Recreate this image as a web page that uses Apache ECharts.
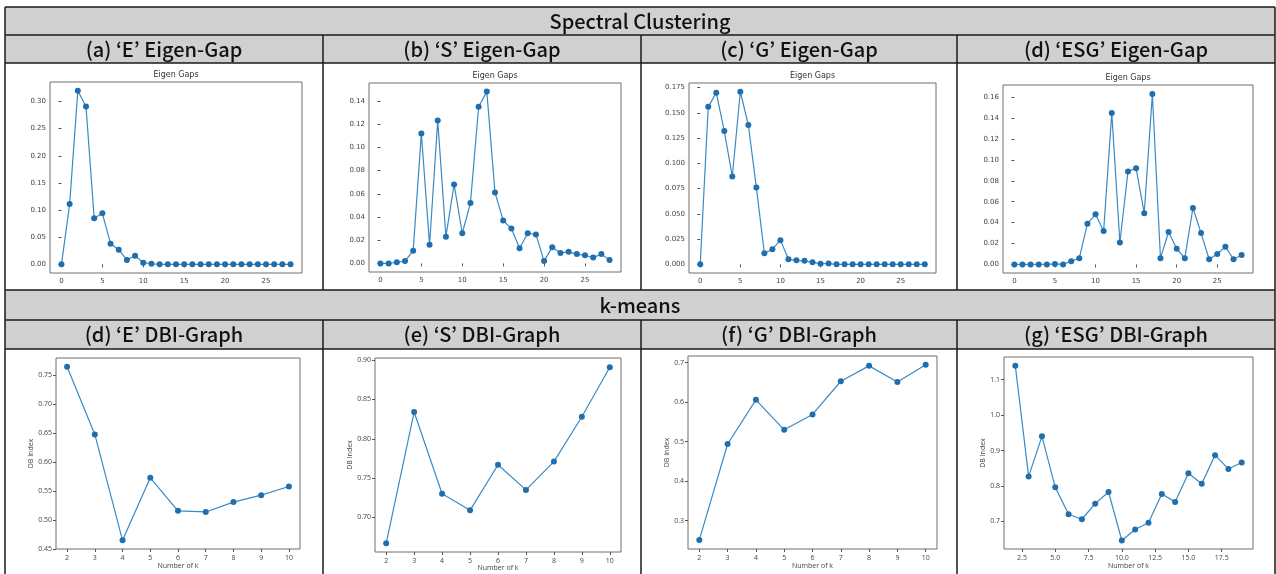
<!DOCTYPE html>
<html>
<head>
<meta charset="utf-8">
<script src="https://cdn.jsdelivr.net/npm/echarts@6/dist/echarts.min.js"></script>
<style>
  html, body { margin: 0; padding: 0; background: #fff; }
  #main { width: 1276px; height: 574px; }
</style>
</head>
<body>
<div id="main"></div>
<script>
// eigen-gap index 0..28
const eigenIdx = Array.from({ length: 29 }, (_, i) => i)
const gapE = [0.000, 0.111, 0.320, 0.291, 0.085, 0.094, 0.038, 0.027, 0.008, 0.016, 0.003, 0.001,
  0.000, 0.000, 0.000, 0.000, 0.000, 0.000, 0.000, 0.000, 0.000, 0.000, 0.000, 0.000, 0.000, 0.000, 0.000, 0.000, 0.000]
const gapS = [0.000, 0.000, 0.001, 0.002, 0.011, 0.112, 0.016, 0.123, 0.023, 0.068, 0.026, 0.052,
  0.135, 0.148, 0.061, 0.037, 0.030, 0.013, 0.026, 0.025, 0.002, 0.014, 0.009, 0.010, 0.008, 0.007, 0.005, 0.008, 0.003]
const gapG = [0.000, 0.156, 0.170, 0.132, 0.087, 0.171, 0.138, 0.076, 0.011, 0.015, 0.024, 0.005,
  0.004, 0.0035, 0.002, 0.0007, 0.0008, 0.000, 0.000, 0.000, 0.000, 0.000, 0.000, 0.000, 0.000, 0.000, 0.000, 0.000, 0.000]
const gapESG = [0.000, 0.000, 0.000, 0.000, 0.000, 0.0005, 0.000, 0.003, 0.006, 0.039, 0.048, 0.032,
  0.145, 0.021, 0.089, 0.092, 0.049, 0.163, 0.006, 0.031, 0.015, 0.006, 0.054, 0.030, 0.005, 0.010, 0.017, 0.005, 0.009]

// k-means DBI
const kSmall = [2, 3, 4, 5, 6, 7, 8, 9, 10]
const kEsg = [2, 3, 4, 5, 6, 7, 8, 9, 10, 11, 12, 13, 14, 15, 16, 17, 18, 19]
const dbiE = [0.765, 0.648, 0.465, 0.573, 0.516, 0.514, 0.531, 0.543, 0.558]
const dbiS = [0.667, 0.834, 0.730, 0.709, 0.767, 0.735, 0.771, 0.828, 0.891]
const dbiG = [0.251, 0.494, 0.606, 0.530, 0.569, 0.653, 0.692, 0.651, 0.695]
const dbiESG = [1.139, 0.827, 0.940, 0.796, 0.720, 0.706, 0.750, 0.783, 0.646,
  0.677, 0.696, 0.777, 0.755, 0.836, 0.806, 0.887, 0.848, 0.866]

// tick labels
const ticksEigenX = [0, 5, 10, 15, 20, 25]
const ticksGapE = [0, 0.05, 0.10, 0.15, 0.20, 0.25, 0.30]
const ticksGapS = [0, 0.02, 0.04, 0.06, 0.08, 0.10, 0.12, 0.14]
const ticksGapG = [0, 0.025, 0.05, 0.075, 0.10, 0.125, 0.15, 0.175]
const ticksGapESG = [0, 0.02, 0.04, 0.06, 0.08, 0.10, 0.12, 0.14, 0.16]
const ticksK = [2, 3, 4, 5, 6, 7, 8, 9, 10]
const ticksKEsg = [2.5, 5.0, 7.5, 10.0, 12.5, 15.0, 17.5]
const ticksDbiE = [0.45, 0.50, 0.55, 0.60, 0.65, 0.70, 0.75]
const ticksDbiS = [0.70, 0.75, 0.80, 0.85, 0.90]
const ticksDbiG = [0.3, 0.4, 0.5, 0.6, 0.7]
const ticksDbiESG = [0.7, 0.8, 0.9, 1.0, 1.1]

const colTitles = ['(a) ‘E’ Eigen-Gap', '(b) ‘S’ Eigen-Gap', '(c) ‘G’ Eigen-Gap', '(d) ‘ESG’ Eigen-Gap']
const colTitles2 = ['(d) ‘E’ DBI-Graph', '(e) ‘S’ DBI-Graph', '(f) ‘G’ DBI-Graph', '(g) ‘ESG’ DBI-Graph']

const panels = [
  { grid: [50, 82, 252, 191], xs: eigenIdx, ys: gapE, x: [-1.4, 29.4, ticksEigenX, 0], y: [-0.016, 0.336, ticksGapE, 2] },
  { grid: [369, 83, 252, 189], xs: eigenIdx, ys: gapS, x: [-1.4, 29.4, ticksEigenX, 0], y: [-0.0074, 0.1554, ticksGapS, 2] },
  { grid: [689, 83, 247, 190], xs: eigenIdx, ys: gapG, x: [-1.4, 29.4, ticksEigenX, 0], y: [-0.00855, 0.1796, ticksGapG, 3] },
  { grid: [1003, 85, 250, 188], xs: eigenIdx, ys: gapESG, x: [-1.4, 29.4, ticksEigenX, 0], y: [-0.0082, 0.1717, ticksGapESG, 2] },
  { grid: [56, 358, 244, 191], xs: kSmall, ys: dbiE, x: [1.6, 10.4, ticksK, 0], y: [0.45, 0.78, ticksDbiE, 2], names: [13, 20] },
  { grid: [375, 358, 246, 194], xs: kSmall, ys: dbiS, x: [1.6, 10.4, ticksK, 0], y: [0.656, 0.9027, ticksDbiS, 2], names: [11, 21] },
  { grid: [688, 356, 249, 193], xs: kSmall, ys: dbiG, x: [1.6, 10.4, ticksK, 0], y: [0.228, 0.717, ticksDbiG, 1], names: [13, 17] },
  { grid: [1004, 357, 249, 192], xs: kEsg, ys: dbiESG, x: [1.15, 19.85, ticksKEsg, 1], y: [0.622, 1.164, ticksDbiESG, 1], names: [13, 17] }
]

const tickFont = 'DejaVu Sans'
const headFont = 'Noto Sans CJK KR'

const grids = []
const xAxes = []
const yAxes = []
const series = []
const graphics = []

panels.forEach((p, i) => {
  const font = p.names ? 'Open Sans' : tickFont
  grids.push({
    left: p.grid[0], top: p.grid[1], width: p.grid[2], height: p.grid[3],
    show: true, borderColor: '#6e6e6e', borderWidth: 1, backgroundColor: '#fff'
  })
  const axisCommon = (r, isX) => ({
    gridIndex: i,
    type: 'value',
    min: r[0],
    max: r[1],
    axisLine: { show: false },
    splitLine: { show: false },
    axisTick: { show: true, inside: false, length: 3, customValues: r[2], lineStyle: { color: '#555' } },
    axisLabel: {
      customValues: r[2],
      color: '#444',
      fontSize: 7,
      fontFamily: font,
      margin: isX ? 5 : 4,
      formatter: v => v.toFixed(r[3])
    }
  })
  const xa = axisCommon(p.x, true)
  const ya = axisCommon(p.y, false)
  if (p.names) {
    Object.assign(xa, { name: 'Number of k', nameLocation: 'middle', nameGap: p.names[0], nameTextStyle: { fontSize: 7, color: '#444', fontFamily: font } })
    Object.assign(ya, { name: 'DB Index', nameLocation: 'middle', nameGap: p.names[1], nameTextStyle: { fontSize: 7, color: '#444', fontFamily: font } })
  } else {
    graphics.push({
      type: 'text', x: p.grid[0] + p.grid[2] / 2, y: p.grid[1] - 7,
      style: { text: 'Eigen Gaps', fill: '#333', font: '8px "DejaVu Sans"', textAlign: 'center', textVerticalAlign: 'middle' }
    })
  }
  xAxes.push(xa)
  yAxes.push(ya)
  series.push({
    type: 'line',
    xAxisIndex: i,
    yAxisIndex: i,
    data: p.xs.map((x, j) => [x, p.ys[j]]),
    symbol: 'circle',
    symbolSize: 6,
    showAllSymbol: true,
    color: '#1f77b4',
    lineStyle: { width: 1.2, color: '#3a8ac4' },
    itemStyle: { color: '#1f6fae' },
    animation: false
  })
})

// table frame
const cols = [5, 323, 641, 957, 1275]
const lineStyle = { stroke: '#1a1a1a', lineWidth: 1.5 }
const hline = (y, x1, x2) => ({ type: 'line', shape: { x1: x1, y1: y, x2: x2, y2: y }, style: lineStyle, z: 10 })
const vline = (x, y1, y2) => ({ type: 'line', shape: { x1: x, y1: y1, x2: x, y2: y2 }, style: lineStyle, z: 10 })

graphics.unshift(
  { type: 'rect', shape: { x: 5, y: 7, width: 1270, height: 56 }, style: { fill: '#d0d0d0' }, z: -10 },
  { type: 'rect', shape: { x: 5, y: 290, width: 1270, height: 59 }, style: { fill: '#d0d0d0' }, z: -10 }
)
;[7, 35, 63, 290, 320, 349].forEach(y => graphics.push(hline(y, 5, 1275)))
graphics.push(vline(5, 7, 574), vline(1275, 7, 574))
cols.slice(1, 4).forEach(x => {
  graphics.push(vline(x, 35, 290), vline(x, 320, 574))
})

const headText = (t, x, y) => ({
  type: 'text', x: x, y: y, z: 11,
  style: { text: t, fill: '#111', font: '500 20px "' + headFont + '"', textAlign: 'center', textVerticalAlign: 'middle' }
})
graphics.push(headText('Spectral Clustering', 640, 21))
graphics.push(headText('k-means', 640, 305))
colTitles.forEach((t, i) => graphics.push(headText(t, (cols[i] + cols[i + 1]) / 2, 49)))
colTitles2.forEach((t, i) => graphics.push(headText(t, (cols[i] + cols[i + 1]) / 2, 334)))

const chart = echarts.init(document.getElementById('main'))
chart.setOption({
  animation: false,
  backgroundColor: '#fff',
  grid: grids,
  xAxis: xAxes,
  yAxis: yAxes,
  series: series,
  graphic: graphics
})
</script>
</body>
</html>
